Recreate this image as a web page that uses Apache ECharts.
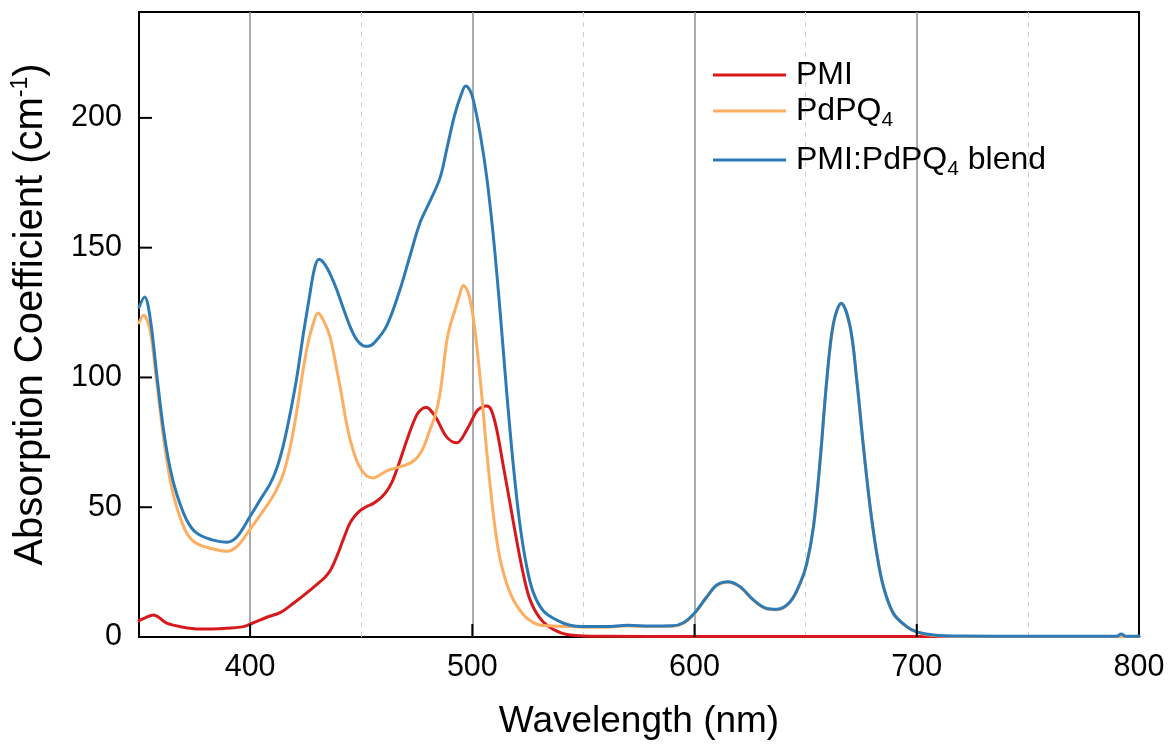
<!DOCTYPE html>
<html>
<head>
<meta charset="utf-8">
<script src="https://cdn.jsdelivr.net/npm/echarts@6/dist/echarts.min.js"></script>
<style>
  html, body { margin: 0; padding: 0; background: #fff; }
  #chart { width: 1169px; height: 749px; }
</style>
</head>
<body>
<div id="chart"></div>
<script>
// Absorption spectra: wavelength (nm) and absorption coefficient (cm^-1)
const pmiNm = [350, 353, 356.5, 359, 362.5, 368.5, 377.5, 388, 397, 401, 407.5, 413.5, 419.5, 425.5, 431.5,
  433.5, 436, 438, 440.5, 443, 445, 447.5, 450, 453, 455.5, 458, 461, 464, 466.5, 471, 475, 477.5, 479.5,
  482, 484, 488.5, 493, 497.5, 502, 504.5, 506.5, 508.5, 511, 514, 517, 520, 523, 526, 530.5, 536.5,
  544, 560, 600, 650, 700, 750, 800];
const pmiAbs = [6.3, 7.5, 8.5, 7.5, 5.3, 4, 3.1, 3.3, 4, 5.3, 7.6, 9.4, 13, 17, 21.3,
  22.8, 25.5, 29, 34.3, 40, 44, 47, 49, 50.5, 51.5, 53, 55.6, 60, 65.6, 77, 85.6, 88, 88.4,
  86.5, 84, 77, 74.8, 79.8, 87, 88.7, 89, 87.5, 79.8, 65.6, 51.3, 37, 24, 14.3, 7.2, 2.9,
  0.8, 0.3, 0.2, 0.2, 0.2, 0.2, 0.2];

const pdpqNm = [350, 352, 355, 358, 361, 364, 367, 371.5, 376, 383, 389.5, 394, 400, 405, 409, 412, 415,
  418, 421, 423.5, 426, 428.5, 430.5, 433, 436, 439, 441, 443, 445, 447.5, 450, 452.5, 455.5, 458.5,
  461.5, 465, 469, 472, 475, 478, 481, 483.5, 485.5, 487, 488.5, 490, 492, 494, 496, 498, 500.5,
  503.5, 506.5, 509.5, 512.5, 517, 523, 529, 535, 544, 550,
  560, 570, 580, 590, 595, 600, 605.5, 610, 615, 620.5, 626.5, 632.5, 637, 643, 647.5, 650.5, 653.5,
  656.5, 659.5, 662.5, 666, 670, 673, 676, 679, 682, 685, 689.5, 695.5, 700, 707.5, 720, 750, 800];
const pdpqAbs = [121, 124, 118, 98, 77, 60.5, 50, 40, 36, 34, 33, 34.8, 41.5, 47.5, 52.5, 57, 63,
  73, 87, 101, 113, 121, 124.8, 122, 115.5, 103, 94, 84, 76, 69, 64.5, 62, 61.3, 62.5,
  64, 65, 66, 67, 69, 73, 80, 86, 94, 104, 114, 120, 125.4, 131, 135.4, 133, 122.6,
  99.8, 71.3, 47, 30, 17, 8.6, 5, 4.3, 4, 3.8,
  3.8, 4.3, 4, 4.1, 5.3, 9, 15.3, 19.8, 21.1, 19.2, 14.1, 10.8, 10.5, 13.4, 20.5, 28.2, 42.3,
  67.8, 98.8, 120.7, 128.4, 119.4, 98.8, 73.1, 50, 32, 19.2, 8.9, 3.8, 1.8, 0.6, 0.2, 0.2, 0.2];

const blendNm = [350, 352.5, 355, 358, 361, 364, 367, 371.5, 376, 383, 389.5, 394, 400, 405, 409, 412,
  415, 418, 421, 424, 426.5, 429, 431, 433, 435, 437, 439, 442, 445, 448, 451, 453, 456, 461.5, 467.5, 472,
  476.5, 481, 485.5, 488.5, 492, 495, 497, 499, 500.5, 503.5, 506.5, 509.5, 512.5, 515.5, 518.5, 521.5,
  524.5, 527.5, 532, 538, 544, 550, 560, 570, 580, 590, 595, 600, 605.5, 610, 615, 620.5, 626.5,
  632.5, 637, 643, 647.5, 650.5, 653.5, 656.5, 659.5, 662.5, 666, 670, 673, 676, 679, 682, 685,
  689.5, 695.5, 700, 707.5, 720, 750, 790, 792, 794, 800];
const blendAbs = [127, 131, 123, 101, 80, 65, 55, 45, 40, 37.4, 36.5, 38.5, 46.5, 53.5, 59, 65,
  74, 86, 100, 117, 130, 142, 145.5, 144.3, 141.6, 138, 133.8, 126.5, 119.6, 114.5, 112.2, 112, 113.5, 120, 134, 147,
  159.7, 168, 177, 188, 201, 209, 212.3, 210.5, 206.7, 194, 177, 154, 125.4, 94, 65.6, 42.8,
  27, 17, 10, 6.5, 4.5, 4, 4, 4.5, 4.2, 4.3, 5.5, 9.2, 15.5, 20, 21.3, 19.4, 14.3,
  11, 10.7, 13.6, 20.7, 28.4, 42.5, 68, 99, 120.9, 128.6, 119.6, 99, 73.3, 50.2, 32.2, 19.4,
  9.1, 4, 2, 0.8, 0.4, 0.3, 0.3, 1.2, 0.3, 0.3];

const seriesNames = ['PMI', 'PdPQ4', 'PMI:PdPQ4 blend'];
const seriesColors = ['#d7191c', '#fdae61', '#2c7bb6'];
const xTickValues = [400, 500, 600, 700];
const yTickValues = [50, 100, 150, 200];
const majorGrid = [400, 500, 600, 700];
const minorGrid = [450, 550, 650, 750];

const FONT = "'Liberation Sans', Arial, Helvetica, sans-serif";
const zip = (xs, ys) => xs.map((x, i) => [x, ys[i]]);

const W = 1169, H = 749;
const GRID = { left: 139, right: 30, top: 12, bottom: 112 };
const X_MIN = 350, X_MAX = 800, Y_MIN = 0, Y_MAX = 240.8;
// tick length in pixels, expressed in each axis' data units
const TICK_PX = 13;
const tickLenX = TICK_PX * (X_MAX - X_MIN) / (W - GRID.left - GRID.right);
const tickLenY = TICK_PX * (Y_MAX - Y_MIN) / (H - GRID.top - GRID.bottom);

const chart = echarts.init(document.getElementById('chart'), null, { renderer: 'canvas' });

// vertical grid: solid at each 100 nm, dashed halfway between
const gridLines = majorGrid.map(v => ({ xAxis: v, lineStyle: { color: '#8f8f8f', width: 1.5, type: 'solid' } }))
  .concat(minorGrid.map(v => ({ xAxis: v, lineStyle: { color: '#cfcfcf', width: 1, type: [5, 5] } })));

const curve = (name, color, nm, abs, z) => ({
  name, type: 'line', data: zip(nm, abs), z,
  showSymbol: false, smooth: 0.35, animation: false,
  lineStyle: { color, width: 3, cap: 'round', join: 'round' },
  itemStyle: { color }
});

const pmiSeries = curve(seriesNames[0], seriesColors[0], pmiNm, pmiAbs, 3);
pmiSeries.markLine = {
  silent: true, z: 1, symbol: ['none', 'none'], label: { show: false }, animation: false,
  emphasis: { disabled: true }, data: gridLines
};

// inward tick marks along the bottom and left axes, one short segment per tick value
const tickSeg = (name, pts) => ({
  name, type: 'line', data: pts, z: 6, silent: true, animation: false,
  showSymbol: false, smooth: false, clip: false,
  lineStyle: { color: '#000', width: 2, cap: 'butt' },
  itemStyle: { color: '#000' },
  emphasis: { disabled: true }, tooltip: { show: false }
});
const tickSeries = xTickValues.map(v => tickSeg('xtick' + v, [[v, Y_MIN], [v, Y_MIN + tickLenY]]))
  .concat(yTickValues.map(v => tickSeg('ytick' + v, [[X_MIN, v], [X_MIN + tickLenX, v]])));

// legend entries, one block per row
const legendText = {
  'PMI': '{p|PMI}',
  'PdPQ4': '{p|PdPQ}{s|4}',
  'PMI:PdPQ4 blend': '{p|PMI:PdPQ}{s|4}{m| blend}'
};
const legendRich = {
  p: { fontFamily: FONT, fontSize: 32, lineHeight: 40, color: '#000', padding: [0, 0, 0, 5] },
  m: { fontFamily: FONT, fontSize: 32, lineHeight: 40, color: '#000' },
  s: { fontFamily: FONT, fontSize: 21, lineHeight: 21, color: '#000', verticalAlign: 'bottom' }
};
const legendTops = [59, 95, 144];
const legends = seriesNames.map((name, i) => ({
  orient: 'vertical', left: 713, top: legendTops[i], padding: 0,
  icon: 'rect', itemWidth: 73, itemHeight: 3,
  data: [name],
  formatter: n => legendText[n],
  textStyle: { color: '#000', fontFamily: FONT, fontSize: 32, rich: legendRich }
}));

const option = {
  backgroundColor: '#fff',
  animation: false,
  grid: {
    left: GRID.left, right: GRID.right, top: GRID.top, bottom: GRID.bottom,
    show: true, borderColor: '#000', borderWidth: 2, backgroundColor: 'transparent',
    outerBoundsMode: 'none'
  },
  legend: legends,
  xAxis: {
    type: 'value', min: X_MIN, max: X_MAX,
    name: 'Wavelength (nm)', nameLocation: 'middle', nameGap: 64,
    nameTextStyle: { fontFamily: FONT, fontSize: 37, color: '#000', lineHeight: 42 },
    axisLine: { show: true, lineStyle: { color: '#000', width: 2 } },
    axisTick: { show: false },
    axisLabel: {
      show: true, margin: 15, fontFamily: FONT, fontSize: 30.5, color: '#000',
      formatter: v => (v % 100 === 0 ? String(v) : '')
    },
    splitLine: { show: false }
  },
  yAxis: {
    type: 'value', min: Y_MIN, max: Y_MAX, interval: 50,
    name: '{t0|Absorption Coefficient (cm}{u|-1}{t|)}', nameLocation: 'middle', nameGap: 86, nameRotate: 90,
    nameTextStyle: {
      fontFamily: FONT, fontSize: 40, color: '#000',
      rich: {
        t0: { fontFamily: FONT, fontSize: 40, lineHeight: 44, color: '#000', padding: [0, 0, 0, 20] },
        t: { fontFamily: FONT, fontSize: 40, lineHeight: 44, color: '#000' },
        u: { fontFamily: FONT, fontSize: 23, lineHeight: 24, color: '#000', verticalAlign: 'top' }
      }
    },
    axisLine: { show: true, lineStyle: { color: '#000', width: 2 } },
    axisTick: { show: false },
    axisLabel: {
      show: true, margin: 17, fontFamily: FONT, fontSize: 30.5, color: '#000',
      formatter: v => (v % 50 === 0 ? String(v) : '')
    },
    splitLine: { show: false }
  },
  series: [
    pmiSeries,
    curve(seriesNames[1], seriesColors[1], pdpqNm, pdpqAbs, 4),
    curve(seriesNames[2], seriesColors[2], blendNm, blendAbs, 5)
  ].concat(tickSeries)
};

chart.setOption(option);
</script>
</body>
</html>
